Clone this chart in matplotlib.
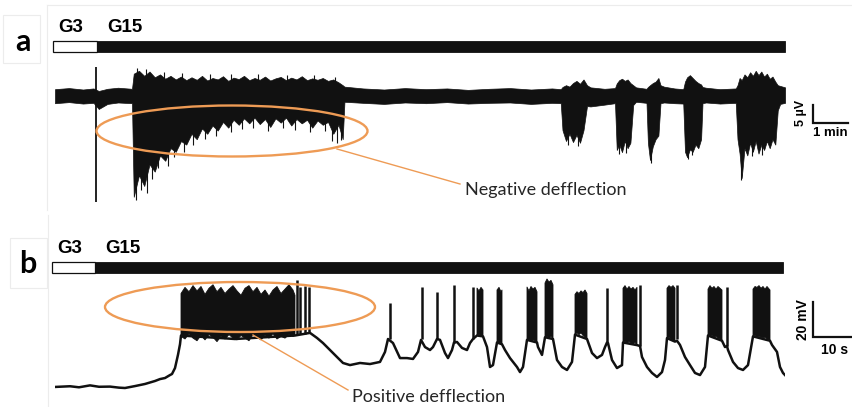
import matplotlib.pyplot as plt
import numpy as np
from matplotlib.patches import Ellipse, Rectangle

# ---- panel a: extracellular recording, envelope of the trace (time in min, amplitude in uV)
t_a = [0.0, 0.4, 0.8, 1.1, 1.25, 1.5, 1.8, 2.2,
       2.25, 2.40, 2.55, 2.70, 2.85, 3.00, 3.15, 3.30, 3.45, 3.60, 3.75, 3.90, 4.05, 4.20,
       4.35, 4.50, 4.65, 4.80, 4.95, 5.10, 5.25, 5.40, 5.55, 5.70, 5.85, 6.00, 6.15, 6.30,
       6.45, 6.60, 6.75, 6.90, 7.05, 7.20, 7.35, 7.50, 7.65, 7.80, 7.95, 8.10, 8.22,
       8.27, 8.8, 9.4, 10.0, 10.6, 11.2, 11.8, 12.4, 13.0, 13.6, 14.2, 14.45,
       14.5, 14.6, 14.7, 14.8, 14.9, 15.0, 15.1, 15.2,
       15.3, 15.7, 16.0,
       16.05, 16.12, 16.2, 16.28, 16.36, 16.44, 16.52,
       16.6, 16.9,
       16.94, 17.0, 17.08, 17.16, 17.24, 17.3,
       17.4, 17.7, 17.95,
       18.0, 18.06, 18.14, 18.22, 18.3, 18.38, 18.46, 18.5,
       18.6, 19.0, 19.45,
       19.5, 19.56, 19.62, 19.7, 19.78, 19.86, 19.94, 20.02, 20.1, 20.18, 20.26, 20.34,
       20.42, 20.5, 20.58, 20.65,
       20.72, 20.86]
up_a = [1.9, 2.2, 1.8, 2.1, 1.4, 2.0, 2.3, 2.0,
        6.2, 7.0, 5.6, 6.8, 5.2, 6.0, 4.8, 5.6, 4.6, 5.4, 4.4, 5.2, 4.5, 5.6,
        4.3, 5.0, 4.6, 5.5, 4.2, 5.1, 4.7, 5.6, 4.4, 5.0, 4.5, 5.4, 4.3, 4.9,
        5.3, 4.4, 5.1, 4.6, 5.5, 4.4, 4.9, 4.5, 5.0, 4.2, 4.6, 3.8, 3.0,
        2.6, 2.1, 1.8, 2.2, 1.9, 2.1, 1.7, 2.0, 2.2, 1.8, 2.1, 1.9,
        2.5, 3.0, 2.6, 3.6, 4.2, 3.4, 4.6, 3.0,
        2.4, 2.0, 2.2,
        3.5, 4.4, 4.8, 4.2, 4.6, 3.6, 3.0,
        2.4, 2.0,
        2.5, 3.0, 3.6, 4.0, 5.0, 3.0,
        2.6, 2.1, 1.9,
        4.0, 5.2, 5.8, 5.0, 4.2, 3.6, 3.2, 2.5,
        2.3, 1.9, 2.1,
        3.0, 5.0, 4.4, 6.0, 5.2, 6.6, 5.6, 7.0, 5.8, 6.8, 5.4, 6.2,
        4.8, 5.4, 4.0, 3.0,
        2.8, 2.4]
lo_a = [-2.0, -1.7, -2.1, -1.9, -3.6, -2.2, -1.8, -2.0,
        -28.0, -22.0, -25.0, -19.0, -21.0, -16.5, -18.0, -14.5, -15.5, -12.5, -13.5, -10.5, -12.0, -9.0,
        -10.5, -8.2, -9.6, -7.2, -8.8, -6.6, -8.0, -6.2, -7.6, -6.0, -7.8, -6.4, -8.6, -6.2,
        -7.4, -6.0, -8.2, -6.4, -7.6, -6.6, -8.8, -6.8, -8.0, -7.2, -10.5, -8.0, -12.0,
        -1.6, -1.9, -2.2, -1.8, -2.0, -1.7, -2.1, -1.9, -1.8, -2.2, -1.9, -2.0,
        -9.5, -12.5, -10.5, -12.8, -10.8, -13.0, -9.5, -2.8,
        -2.9, -2.4, -2.0,
        -15.0, -13.5, -15.6, -12.5, -14.5, -13.0, -2.5,
        -1.6, -1.9,
        -13.0, -17.8, -14.0, -12.0, -11.0, -2.0,
        -1.8, -2.0, -2.1,
        -15.5, -17.0, -14.8, -15.5, -13.5, -14.5, -12.0, -2.0,
        -1.8, -2.1, -1.9,
        -12.0, -16.0, -22.8, -14.5, -16.5, -13.0, -15.5, -12.5, -16.0, -13.5, -15.0, -12.5,
        -14.5, -12.0, -13.5, -4.0,
        -2.2, -1.9]
# isolated needles sticking out of the bursts
needle_t = [2.3, 2.45, 2.62, 2.78, 2.95, 3.22, 3.4, 3.68, 3.95, 4.28, 4.6, 5.02, 5.33, 5.66,
            6.08, 6.52, 6.86, 7.28, 7.7, 7.9, 8.05, 8.16,
            2.35, 2.6, 3.1, 3.62, 4.42, 5.04, 5.8, 6.62, 7.4, 8.0,
            14.65, 14.95, 16.1, 16.3, 17.02, 18.08, 18.2, 19.6, 19.9, 20.2]
needle_tip = [-29.0, -26.0, -27.0, -23.0, -20.0, -19.5, -17.0, -15.5, -13.5, -12.0, -11.0, -10.0,
              -9.2, -9.0, -9.6, -8.8, -9.4, -10.0, -9.6, -12.5, -13.0, -12.2,
              7.8, 7.4, 6.6, 6.3, 6.0, 6.2, 6.0, 5.8, 5.9, 5.2,
              -13.5, -13.8, -16.2, -15.8, -18.5, -17.5, -16.5, -23.2, -16.8, -16.5]
# artefact when glucose is switched
art_t, art_lo, art_up = 1.17, -29.4, 8.1
scale_a = (1.0, 5.0)   # 1 min, 5 uV

# ---- panel b: membrane potential (time in s, mV)
t_b = [0, 3.75, 6, 8.75, 11, 13.75, 16, 17.5, 20, 22.5, 25, 26.25, 27.5, 28.75, 29.25, 30,
       30.75, 31.25, 31.5, 45, 60, 63.75,
       65.5, 67, 68.75, 70.5, 72, 73.75, 76.25, 78.75, 81.25, 82.5, 83.25, 84.5, 86.25, 88,
       89.5, 90.75, 91.5, 92.5, 93.75, 94.5, 95.5, 96.25, 97.5, 98.25, 99.25, 99.75, 100.5,
       101.75, 103, 103.75, 104.5, 105.5, 107, 108, 108.75, 109.5, 110.5, 111.75, 112.5,
       113.75, 115.5, 116.25, 117, 118, 120.5, 120.75, 121.75, 122.5, 124.5, 125.5, 126.75,
       128, 129.25, 130, 133, 134.25, 135.5, 136.75, 137.5, 138, 138.25, 139.25, 140.5,
       141.75, 142, 145.5, 146.25, 146.75, 148, 149.25, 150.5, 151.75, 152.5, 153, 155,
       155.5, 156.25, 157.5, 158.75, 160, 161.25, 162.5, 163.25, 166.75, 167.5, 168, 168.25,
       169.5, 170.75, 172, 173.25, 174.5, 178.75, 179.25, 180.5, 181.25, 182, 182.5]
v_b = [-67.4, -67.0, -67.6, -66.5, -67.3, -67.2, -67.8, -68.0, -66.9, -65.7, -64.0, -62.9,
       -62.3, -60.6, -60.0, -56.6, -49.0, -43.0, -38.0, -40.0, -38.0, -36.5,
       -39.4, -42.3, -46.3, -50.3, -53.7, -54.9, -53.7, -54.3, -53.1, -47.4, -40.0, -42.3,
       -50.9, -50.9, -51.4, -47.4, -40.5, -44.6, -46.3, -44.6, -40.0, -40.5, -48.0, -50.9,
       -46.3, -42.0, -41.7, -45.1, -46.3, -42.3, -40.0, -38.0, -38.5, -44.6, -56.0, -54.9,
       -42.0, -43.0, -46.3, -50.9, -56.0, -58.9, -56.0, -40.5, -42.0, -44.6, -49.1, -39.0,
       -40.0, -52.0, -56.0, -57.7, -53.1, -37.5, -40.0, -48.0, -50.9, -49.1, -44.6, -42.0,
       -42.3, -52.0, -56.6, -54.9, -42.0, -43.5, -44.0, -50.3, -56.0, -59.4, -61.7, -58.9,
       -52.0, -39.5, -41.5, -41.0, -43.4, -50.3, -54.9, -59.4, -60.6, -56.0, -38.0, -41.0,
       -44.6, -44.0, -46.3, -53.1, -56.6, -57.7, -54.9, -38.5, -41.0, -43.4, -47.4, -56.0,
       -59.4, -60.6]

nan = np.nan
# spike bursts (nan separates bursts)
burst_t = [31.5, 32.5, 33.5, 34.5, 35.5, 36.5, 37.5, 38.5, 39.5, 40.5, 41.5, 42.5, 43.5, 44.5,
           45.5, 46.5, 47.5, 48.5, 49.5, 50.5, 51.5, 52.5, 53.5, 54.5, 55.5, 56.5, 57.5, 58.5,
           59.5, 60.0, nan,
           105.5, 106, 106.5, 107, nan,
           110.5, 111, 111.5, 111.75, nan,
           118, 118.5, 119, 119.5, 120, 120.5, nan,
           122.5, 123, 123.5, 124, 124.5, nan,
           130, 130.5, 131, 131.5, 132, 132.5, 133, nan,
           142, 142.5, 143, 143.5, 144, 144.5, 145, 145.5, nan,
           153, 153.5, 154, 154.5, 155, nan,
           163.25, 163.75, 164.25, 164.75, 165.25, 165.75, 166.25, 166.75, nan,
           174.5, 175, 175.5, 176, 176.5, 177, 177.5, 178, 178.75]
burst_top = [-14.0, -10.5, -13.0, -9.5, -12.5, -10.0, -14.5, -11.0, -9.0, -13.0,
             -10.5, -14.0, -11.5, -9.5, -12.5, -15.0, -11.0, -9.5, -13.0, -10.5,
             -14.5, -12.0, -15.5, -12.0, -10.0, -14.0, -11.5, -9.0, -12.0, -15.0, nan,
             -10.9, -12.5, -10.5, -12.0, nan,
             -12.0, -10.5, -13.0, -12.0, nan,
             -10.3, -12.5, -10.0, -11.5, -10.5, -13.0, nan,
             -8.0, -5.7, -7.5, -6.5, -9.0, nan,
             -14.5, -13.0, -14.0, -12.5, -13.5, -12.0, -14.0, nan,
             -11.0, -9.5, -11.5, -10.0, -11.5, -10.5, -12.0, -10.5, nan,
             -11.0, -9.5, -10.5, -9.5, -11.0, nan,
             -11.5, -9.5, -11.0, -10.0, -11.5, -10.0, -11.0, -12.0, nan,
             -11.5, -10.0, -10.5, -9.5, -11.0, -10.0, -11.5, -10.0, -12.0]
burst_bot = [-38.5, -40.0, -37.0, -39.5, -41.0, -38.0, -40.5, -37.5, -39.0, -41.5,
             -38.5, -40.0, -37.5, -39.5, -40.5, -38.0, -39.5, -41.0, -37.5, -39.0,
             -40.5, -38.0, -39.5, -37.0, -40.0, -38.5, -39.5, -37.5, -38.5, -38.0, nan,
             -38.0, -37.5, -38.0, -38.5, nan,
             -42.0, -42.5, -42.0, -43.0, nan,
             -40.5, -40.0, -41.0, -40.5, -41.0, -42.0, nan,
             -39.0, -38.5, -39.5, -38.5, -40.0, nan,
             -37.5, -36.5, -37.5, -36.5, -38.0, -39.0, -40.0, nan,
             -42.0, -41.5, -42.5, -41.5, -42.5, -43.0, -42.0, -43.5, nan,
             -39.5, -39.0, -40.0, -40.5, -41.5, nan,
             -38.0, -38.5, -38.0, -39.0, -38.5, -39.5, -40.0, -41.0, nan,
             -38.5, -38.0, -39.0, -38.5, -39.0, -39.5, -39.0, -40.0, -41.0]
# single action potentials
spk_t = [60.5, 61.25, 62.5, 63.5, 83.75, 91.75, 95.5, 99.75, 104.5, 138.0, 146.25, 155.5, 168.0]
spk_base = [-37, -37, -37, -36.5, -40, -40, -40, -42, -40, -42, -44, -40, -44]
spk_top = [-6.3, -10.0, -9.5, -10.5, -19.4, -10.3, -13.1, -9.1, -10.3, -10.9, -9.1, -9.1, -10.3]
scale_b = (10.0, 20.0)   # 10 s, 20 mV

stim = ['G3', 'G15']
panels = ['a', 'b']
notes = ['Negative defflection', 'Positive defflection']

ink = '#111111'
orange = '#EE9B55'
W, H = 852, 407
fig = plt.figure(figsize=(W / 100, H / 100), dpi=100)


def px_axes(x0, y0, x1, y1):
    return fig.add_axes([x0 / W, 1 - y1 / H, (x1 - x0) / W, (y1 - y0) / H])


# trace a
ax_a = px_axes(55, 60, 785, 204)
ax_a.fill_between(t_a, lo_a, up_a, facecolor=ink, edgecolor=ink, lw=0.5)
ax_a.vlines(needle_t, 0, needle_tip, color=ink, lw=0.8)
ax_a.vlines(art_t, art_lo, art_up, color=ink, lw=1.3)
ax_a.set_xlim(0, 730 / 35)
ax_a.set_ylim(-30, 10)
ax_a.axis('off')
sx, sy = 21.66, -7.5
ax_a.plot([sx, sx, sx + scale_a[0]], [sy + scale_a[1], sy, sy], color=ink, lw=1.6,
          clip_on=False, solid_joinstyle='miter')

# trace b
ax_b = px_axes(55, 269, 785, 395)
ax_b.plot(t_b, v_b, color=ink, lw=1.8, solid_joinstyle='round')
ax_b.fill_between(burst_t, burst_bot, burst_top, facecolor=ink, edgecolor=ink, lw=0.6)
ax_b.vlines(spk_t, spk_base, spk_top, color=ink, lw=1.8)
ax_b.set_xlim(0, 730 / 4)
ax_b.set_ylim(-72, 0)
ax_b.axis('off')
sx, sy = 189.5, -38.9
ax_b.plot([sx, sx, sx + scale_b[0]], [sy + scale_b[1], sy, sy], color=ink, lw=1.6,
          clip_on=False, solid_joinstyle='miter')

# overlay in pixel units for labels and annotations
ov = fig.add_axes([0, 0, 1, 1])
ov.set_xlim(0, W)
ov.set_ylim(H, 0)
ov.axis('off')
ov.set_zorder(5)

frame = '#ececec'
ov.plot([47, W], [5, 5], color=frame, lw=0.8)
ov.plot([47, 47], [5, 210], color=frame, lw=0.8)
ov.plot([48, 48], [215, H], color=frame, lw=0.8)
ov.add_patch(Rectangle((3, 15), 37, 48, facecolor='white', edgecolor=frame, lw=0.8))
ov.add_patch(Rectangle((10, 238), 37, 50, facecolor='white', edgecolor=frame, lw=0.8))

ov.text(15, 51, panels[0], fontsize=22, fontweight='bold', family='Lato', ha='left', va='baseline')
ov.text(19, 273, panels[1], fontsize=22, fontweight='bold', family='Lato', ha='left', va='baseline')

# stimulus bars
for y0, xw, xe, xend, xg3, xg15 in [(41, 53, 97, 785, 58, 107), (262, 52, 95, 783, 57, 105)]:
    ov.add_patch(Rectangle((xw, y0), xe - xw, 11, facecolor='white', edgecolor=ink, lw=0.9))
    ov.add_patch(Rectangle((xe, y0), xend - xe, 11, facecolor=ink, edgecolor=ink, lw=0.6))
    ov.text(xg3, y0 - 9, stim[0], fontsize=13.5, fontweight='bold', family='Liberation Sans', va='baseline')
    ov.text(xg15, y0 - 9, stim[1], fontsize=13.5, fontweight='bold', family='Liberation Sans', va='baseline')

# scale bar labels
ov.text(801, 113, '5 µV', rotation=90, fontsize=9, fontweight='bold', family='Liberation Sans',
        ha='center', va='center')
ov.text(830, 133, '1 min', fontsize=9.5, fontweight='bold', family='Liberation Sans', ha='center', va='center')
ov.text(803, 320, '20 mV', rotation=90, fontsize=10, fontweight='bold', family='Liberation Sans',
        ha='center', va='center')
ov.text(835, 350, '10 s', fontsize=10, fontweight='bold', family='Liberation Sans', ha='center', va='center')

# annotations
ov.add_patch(Ellipse((232, 131), 271, 51, fill=False, edgecolor=orange, lw=1.7))
ov.add_patch(Ellipse((240, 307), 270, 50, fill=False, edgecolor=orange, lw=1.7))
ov.plot([337, 460], [149, 184], color=orange, lw=1.0)
ov.plot([253, 348], [335, 390], color=orange, lw=1.0)
ov.text(465, 190, notes[0], fontsize=13, family='Lato', color='#262626', ha='left', va='center')
ov.text(352, 397, notes[1], fontsize=13, family='Lato', color='#262626', ha='left', va='center')

fig.savefig('out.png', dpi=100)
